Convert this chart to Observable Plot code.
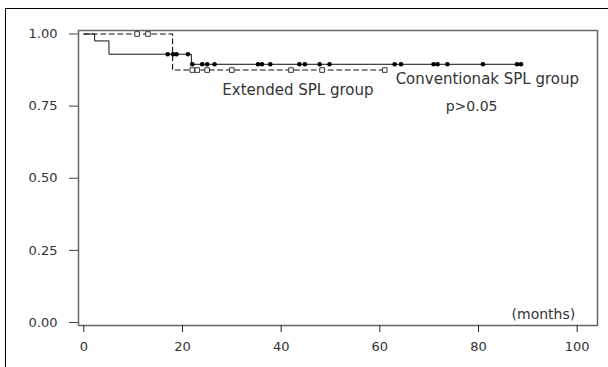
<!DOCTYPE html>
<html>
<head>
<meta charset="utf-8">
<script src="https://cdn.jsdelivr.net/npm/d3@7"></script>
<script src="https://cdn.jsdelivr.net/npm/@observablehq/plot@0.6"></script>
<style>
  html, body { margin: 0; padding: 0; background: #fff; }
  body { width: 608px; height: 367px; position: relative; overflow: hidden; font-family: "DejaVu Sans", sans-serif; }
  #outer { position: absolute; left: 5px; top: 8px; width: 610px; height: 370px; border-top: 1.5px solid #000; border-left: 1.5px solid #000; }
  #chart { position: absolute; left: 0; top: 0; }
</style>
</head>
<body>
<div id="outer"></div>
<div id="chart"></div>
<script>
// Conventional SPL group (solid line) — step survival curve
const convTime = [0, 2.2, 5.1, 21.8, 89];
const convSurv = [1, 0.976, 0.93, 0.895, 0.895];
// censored observations (dots)
const convCensorTime = [17.0, 18.1, 18.8, 21.1];
const convCensorSurv = [0.93, 0.93, 0.93, 0.93];
const convCensorTime2 = [22.0, 24.0, 25.0, 26.5, 35.3, 36.1, 37.8, 43.7, 44.8, 47.8, 49.8, 63.0, 64.3, 70.9, 71.7, 73.7, 80.9, 87.8, 88.6];
const convCensorSurv2 = convCensorTime2.map(() => 0.895);

// Extended SPL group (dashed line)
const extTime = [0, 18.0, 61.0];
const extSurv = [1, 0.875, 0.875];
const extCensorTime = [10.8, 13.0, 22.0, 23.0, 25.0, 30.0, 42.0, 48.3, 61.0];
const extCensorSurv = [1, 1, 0.875, 0.875, 0.875, 0.875, 0.875, 0.875, 0.875];

// tick labels
const xTicks = [0, 20, 40, 60, 80, 100];
const yTicks = [0, 0.25, 0.5, 0.75, 1];

// annotations
const convLabel = [{t: 63.2, s: 0.845, text: "Conventionak SPL group"}];
const extLabel = [{t: 43.4, s: 0.805, text: "Extended SPL group"}];
const pLabel = [{t: 78.6, s: 0.748, text: "p>0.05"}];
const unitLabel = [{t: 99.6, s: 0.027, text: "(months)"}];

const conv = convTime.map((t, i) => ({t, s: convSurv[i]}));
const ext = extTime.map((t, i) => ({t, s: extSurv[i]}));
const convCens = convCensorTime.map((t, i) => ({t, s: convCensorSurv[i]}))
  .concat(convCensorTime2.map((t, i) => ({t, s: convCensorSurv2[i]})));
const extCens = extCensorTime.map((t, i) => ({t, s: extCensorSurv[i]}));

const chart = Plot.plot({
  width: 608,
  height: 367,
  marginLeft: 78,
  marginRight: 11,
  marginTop: 30,
  marginBottom: 42,
  insetLeft: 5.3,
  insetRight: 20.3,
  insetTop: 3.5,
  insetBottom: 3,
  style: {fontFamily: "DejaVu Sans, sans-serif", fontSize: "13px", color: "#333", background: "transparent"},
  x: {domain: [0, 100], ticks: xTicks, label: null},
  y: {domain: [0, 1], ticks: yTicks, label: null, tickFormat: d3.format(".2f")},
  marks: [
    Plot.frame({stroke: "#666", strokeWidth: 1.5}),
    Plot.axisX({ticks: xTicks, tickSize: 7, tickPadding: 9, label: null, stroke: "#222", fill: "#333", fontSize: 13}),
    Plot.axisY({ticks: yTicks, tickSize: 9, tickPadding: 12, label: null, tickFormat: d3.format(".2f"), stroke: "#444", fill: "#333", fontSize: 13}),
    Plot.line(conv, {x: "t", y: "s", curve: "step-after", stroke: "#111", strokeWidth: 1}),
    Plot.line(ext, {x: "t", y: "s", curve: "step-after", stroke: "#111", strokeWidth: 1.1, strokeDasharray: "5,3.5"}),
    Plot.dot(convCens, {x: "t", y: "s", r: 2.3, fill: "#000", stroke: "none"}),
    Plot.dot(extCens, {x: "t", y: "s", symbol: "square", r: 2.6, fill: "#fff", stroke: "#222", strokeWidth: 0.9}),
    Plot.text(convLabel, {x: "t", y: "s", text: "text", textAnchor: "start", fontSize: 15, fill: "#333"}),
    Plot.text(extLabel, {x: "t", y: "s", text: "text", textAnchor: "middle", fontSize: 15, fill: "#333"}),
    Plot.text(pLabel, {x: "t", y: "s", text: "text", textAnchor: "middle", fontSize: 14, fill: "#333"}),
    Plot.text(unitLabel, {x: "t", y: "s", text: "text", textAnchor: "end", fontSize: 14, fill: "#333", letterSpacing: "0.4px"}),
  ]
});
document.getElementById("chart").appendChild(chart);
</script>
</body>
</html>
